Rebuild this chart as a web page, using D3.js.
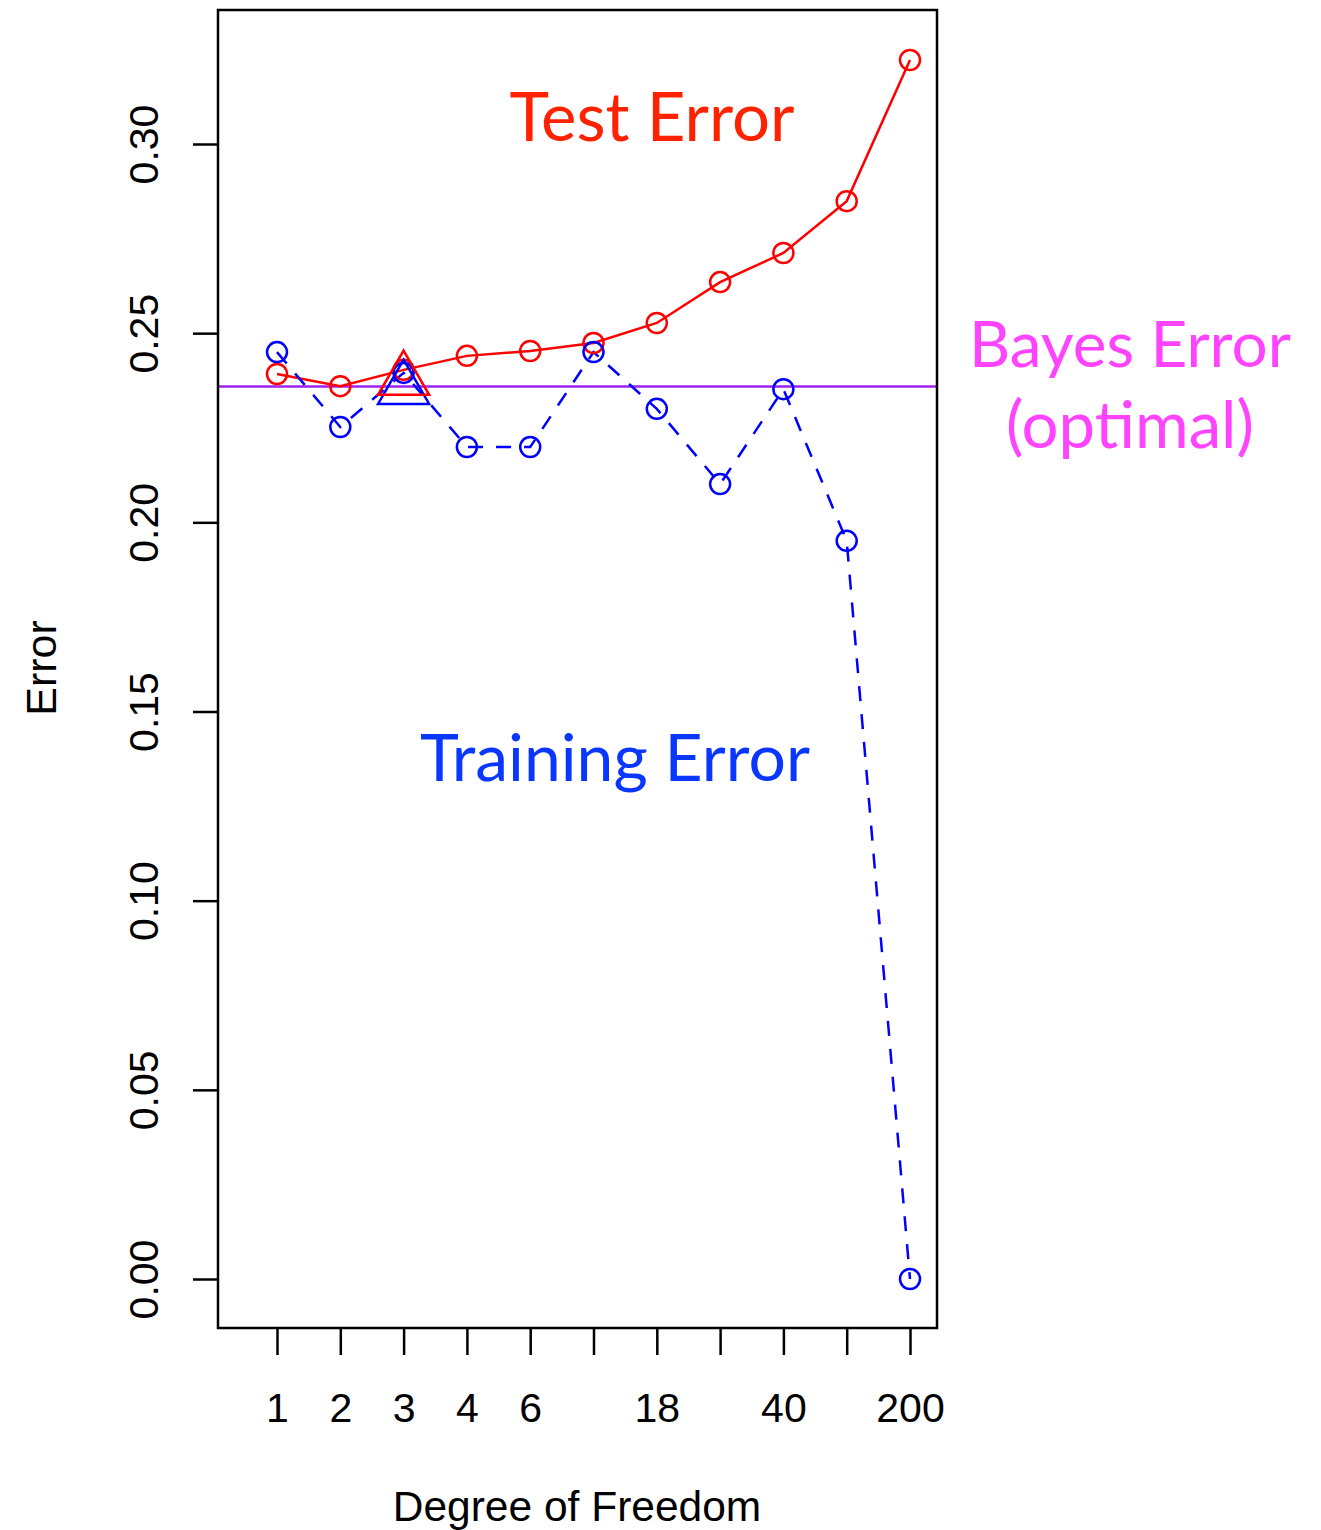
<!DOCTYPE html>
<html>
<head>
<meta charset="utf-8">
<script src="https://cdn.jsdelivr.net/npm/d3@7"></script>
<style>
  body { margin: 0; background: white; }
  svg { display: block; }
</style>
</head>
<body>
<div id="graph"></div>
<script>
let width = 1321, height = 1530;

// Data
let dfLevels = ["1", "2", "3", "4", "6", "10", "18", "25", "40", "100", "200"];
let dfShown = ["1", "2", "3", "4", "6", "18", "40", "200"];
let testError = [0.2392, 0.2360, 0.2403, 0.2440, 0.2453, 0.2474, 0.2527, 0.2635, 0.2712, 0.2849, 0.3222];
let trainError = [0.2450, 0.2252, 0.2395, 0.2199, 0.2199, 0.2450, 0.2300, 0.2101, 0.2352, 0.1951, 0.0000];
let bayesError = 0.2359;
let yTicks = [0, 0.05, 0.10, 0.15, 0.20, 0.25, 0.30];
// chosen model markers (triangles) at df = 3
let chosenDf = "3";
let chosenTest = 0.2376;
let chosenTrain = 0.2352;

let svg = d3.select("#graph").append("svg")
    .attr("width", width)
    .attr("height", height);

// plot box
let box = {left: 218, right: 937, top: 10, bottom: 1328};

let x = d3.scalePoint()
    .domain(dfLevels)
    .range([277, 910]);

let y = d3.scaleLinear()
    .domain([0, 0.30])
    .range([1279, 144]);

let axisFont = "'Liberation Sans', Arial, Helvetica, sans-serif";
let labelFont = "'Gill Sans', Lato, 'Open Sans', sans-serif";

// Bayes line
svg.append("line")
  .attr("x1", box.left)
  .attr("x2", box.right)
  .attr("y1", y(bayesError))
  .attr("y2", y(bayesError))
  .attr("stroke", "#a020f0")
  .attr("stroke-width", 2.5);

let line = d3.line()
  .x((d, i) => x(dfLevels[i]))
  .y(d => y(d));

// Test error line
svg.append("path")
  .datum(testError)
  .attr("fill", "none")
  .attr("stroke", "#ff0000")
  .attr("stroke-width", 2.5)
  .attr("d", line);

// Training error line (dashed)
svg.append("path")
  .datum(trainError)
  .attr("fill", "none")
  .attr("stroke", "#0000ff")
  .attr("stroke-width", 2.5)
  .attr("stroke-dasharray", "15,13")
  .attr("d", line);

svg.append("g").selectAll("circle")
  .data(testError)
  .enter().append("circle")
  .attr("cx", (d, i) => x(dfLevels[i]))
  .attr("cy", d => y(d))
  .attr("r", 10)
  .attr("fill", "none")
  .attr("stroke", "#ff0000")
  .attr("stroke-width", 2.5);

svg.append("g").selectAll("circle")
  .data(trainError)
  .enter().append("circle")
  .attr("cx", (d, i) => x(dfLevels[i]))
  .attr("cy", d => y(d))
  .attr("r", 10)
  .attr("fill", "none")
  .attr("stroke", "#0000ff")
  .attr("stroke-width", 2.5);

// R style pch=2 triangles, centred on the point
function triangle(cx, cy, r) {
  let xc = r * Math.sqrt(3) / 2;
  return "M" + cx + "," + (cy - r) +
    "L" + (cx + xc) + "," + (cy + r / 2) +
    "L" + (cx - xc) + "," + (cy + r / 2) + "Z";
}

svg.append("path")
  .attr("d", triangle(x(chosenDf), y(chosenTrain), 29.5))
  .attr("fill", "none")
  .attr("stroke", "#0000ff")
  .attr("stroke-width", 2.5);

svg.append("path")
  .attr("d", triangle(x(chosenDf), y(chosenTest), 29.5))
  .attr("fill", "none")
  .attr("stroke", "#ff0000")
  .attr("stroke-width", 2.5);

// Box
svg.append("rect")
  .attr("x", box.left)
  .attr("y", box.top)
  .attr("width", box.right - box.left)
  .attr("height", box.bottom - box.top)
  .attr("fill", "none")
  .attr("stroke", "black")
  .attr("stroke-width", 2.5);

// Y axis
let yAxis = svg.append("g")
  .attr("transform", "translate(" + box.left + ",0)")
  .call(d3.axisLeft(y).tickValues(yTicks).tickSize(25).tickFormat(d3.format(".2f")));
yAxis.select(".domain").remove();
yAxis.selectAll(".tick line").attr("stroke", "black").attr("stroke-width", 2.5);
yAxis.selectAll(".tick text")
  .attr("x", 0).attr("y", 0).attr("dy", 0)
  .attr("transform", "translate(-60,0) rotate(-90)")
  .attr("text-anchor", "middle")
  .style("font-family", axisFont)
  .style("font-size", "41px")
  .attr("fill", "black");

// X axis
let xAxis = svg.append("g")
  .attr("transform", "translate(0," + box.bottom + ")")
  .call(d3.axisBottom(x).tickSize(27).tickFormat(d => dfShown.includes(d) ? d : ""));
xAxis.select(".domain").remove();
xAxis.selectAll(".tick line").attr("stroke", "black").attr("stroke-width", 2.5);
xAxis.selectAll(".tick text")
  .attr("y", 94).attr("dy", 0)
  .style("font-family", axisFont)
  .style("font-size", "41px")
  .attr("fill", "black");

// Axis titles
svg.append("text")
  .attr("x", 577)
  .attr("y", 1521)
  .attr("text-anchor", "middle")
  .style("font-family", axisFont)
  .style("font-size", "42.5px")
  .text("Degree of Freedom");

svg.append("text")
  .attr("transform", "translate(56,668) rotate(-90)")
  .attr("text-anchor", "middle")
  .style("font-family", axisFont)
  .style("font-size", "43px")
  .text("Error");

// Labels sized to the reference width
function addLabel(txt, cx, baseline, targetWidth, color) {
  let t = svg.append("text")
    .attr("x", cx)
    .attr("y", baseline)
    .attr("text-anchor", "middle")
    .style("font-family", labelFont)
    .style("font-size", "68px")
    .attr("fill", color)
    .text(txt);
  let w = t.node().getComputedTextLength();
  if (w > 0) t.style("font-size", (68 * targetWidth / w) + "px");
  return t;
}

addLabel("Test Error", 652, 141, 285, "#ff2200");
addLabel("Training Error", 615, 781, 390, "#0a37ff");
addLabel("Bayes Error", 1130, 367, 322, "#ff44ff");
addLabel("(optimal)", 1130, 448, 248, "#ff44ff");
</script>
</body>
</html>
